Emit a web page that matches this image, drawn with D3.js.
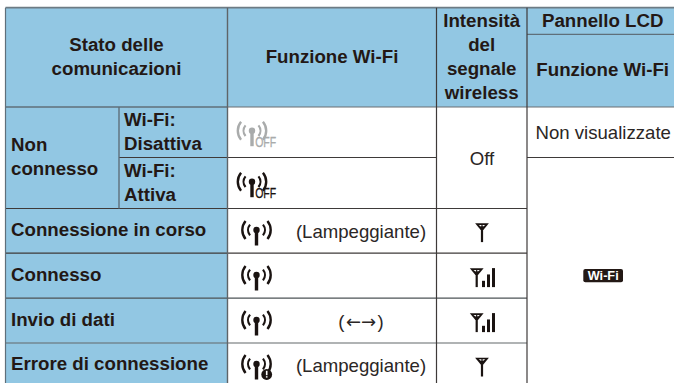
<!DOCTYPE html>
<html>
<head>
    <title>Stato delle comunicazioni Wi-Fi</title>
    <script src="https://d3js.org/d3.v7.min.js"></script>
    <style>
        html, body { margin: 0; padding: 0; background: #fff; }
        svg { display: block; }
        text { font-family: "Liberation Sans", Arial, sans-serif; font-size: 18.7px; fill: #231815; }
        .head { font-weight: bold; }
        .val { font-size: 18.6px; fill: #2b2625; }
    </style>
</head>
<body>
<svg width="674" height="383"></svg>
<script>
    // table content
    var statusRows = ["Connessione in corso", "Connesso", "Invio di dati", "Errore di connessione"];
    var wifiStates = [["Wi-Fi:", "Disattiva"], ["Wi-Fi:", "Attiva"]];
    var blinkNotes = ["(Lampeggiante)", "", "(←→)", "(Lampeggiante)"];
    var signalLevels = [0, 3, 3, 0];

    // column and row edges
    var colNames = ["a", "b", "c", "d", "e", "f"];
    var colEdges = [5.5, 119, 227.5, 436.5, 527, 674];
    var rowNames = ["top", "split", "r0", "r1", "r2", "r3", "r4", "r5", "end"];
    var rowEdges = [7.7, 34.3, 107, 157.5, 208.5, 253.2, 298.2, 343, 383];

    var x = d3.scaleOrdinal(colNames, colEdges),
        y = d3.scaleOrdinal(rowNames, rowEdges),
        barH = d3.scaleLinear().domain([1, 3]).range([6.3, 19]),
        svg = d3.select("svg");

    var blue = "#92c7e3", grayLine = "#5f6f7a", darkLine = "#3e3a39", ink = "#1a1311";

    // blue blocks
    var blocks = [
        ["a", "f", "top", "r0"],
        ["a", "c", "r0", "r2"],
        ["a", "c", "r2", "end"]
    ];
    svg.selectAll(".block").data(blocks).enter().append("rect")
        .attr("class", "block")
        .attr("x", function(d) { return x(d[0]); })
        .attr("y", function(d) { return y(d[2]); })
        .attr("width", function(d) { return x(d[1]) - x(d[0]); })
        .attr("height", function(d) { return y(d[3]) - y(d[2]); })
        .attr("fill", blue);

    // grid lines: horizontal [row, from, to], vertical [col, from, to]
    var hLines = [
        ["top", "a", "f", "#6d7b84", 1.8],
        ["split", "e", "f", grayLine, 1.2],
        ["r0", "a", "c", grayLine, 1.4],
        ["r0", "c", "f", "#6b6f72", 1.2],
        ["r1", "b", "d", darkLine, 1],
        ["r1", "e", "f", darkLine, 1],
        ["r2", "a", "e", darkLine, 1.2],
        ["r3", "a", "e", darkLine, 1.2],
        ["r4", "a", "e", "#4d5356", 1.2],
        ["r5", "a", "e", "#62686b", 1.2]
    ];
    var vLines = [
        ["a", "top", "end", grayLine, 1.2],
        ["b", "r0", "r2", grayLine, 1.4],
        ["c", "top", "end", "#5f6468", 1.4],
        ["d", "top", "end", darkLine, 1.2],
        ["e", "top", "end", darkLine, 1.2]
    ];
    svg.selectAll(".hl").data(hLines).enter().append("line")
        .attr("class", "hl")
        .attr("x1", function(d) { return x(d[1]); })
        .attr("x2", function(d) { return x(d[2]); })
        .attr("y1", function(d) { return y(d[0]); })
        .attr("y2", function(d) { return y(d[0]); })
        .attr("stroke", function(d) { return d[3]; })
        .attr("stroke-width", function(d) { return d[4]; });
    svg.selectAll(".vl").data(vLines).enter().append("line")
        .attr("class", "vl")
        .attr("x1", function(d) { return x(d[0]); })
        .attr("x2", function(d) { return x(d[0]); })
        .attr("y1", function(d) { return y(d[1]); })
        .attr("y2", function(d) { return y(d[2]); })
        .attr("stroke", function(d) { return d[3]; })
        .attr("stroke-width", function(d) { return d[4]; });

    function label(txt, px, py, anchor, cls) {
        return svg.append("text")
            .attr("class", cls)
            .attr("x", px)
            .attr("y", py)
            .attr("text-anchor", anchor)
            .text(txt);
    }

    // header
    label("Stato delle", 116.5, 51.3, "middle", "head");
    label("comunicazioni", 116.5, 75.3, "middle", "head");
    label("Funzione Wi-Fi", 332, 63.4, "middle", "head");
    ["Intensità", "del", "segnale", "wireless"].forEach(function(t, i) {
        label(t, 481.7, 27 + i * 24, "middle", "head");
    });
    label("Pannello LCD", 602.7, 27, "middle", "head");
    label("Funzione Wi-Fi", 602.7, 76, "middle", "head");

    // left labels
    label("Non", 11, 151, "start", "head");
    label("connesso", 11, 175, "start", "head");
    wifiStates.forEach(function(s, i) {
        label(s[0], 124, 126 + i * 50.5, "start", "head");
        label(s[1], 124, 150 + i * 50.5, "start", "head");
    });
    var statusBase = [235.7, 280.7, 325.7, 369.8];
    statusRows.forEach(function(s, i) { label(s, 11, statusBase[i], "start", "head"); });

    // antenna with waves
    function wifiIcon(cx, cy, color) {
        var g = svg.append("g").attr("transform", "translate(" + cx + "," + cy + ")");
        var arc = d3.arc();
        [[14.2, 2.4], [8.4, 2.2]].forEach(function(w) {
            [1, -1].forEach(function(side) {
                g.append("path")
                    .attr("d", arc({
                        innerRadius: w[0] - w[1] / 2,
                        outerRadius: w[0] + w[1] / 2,
                        startAngle: side * Math.PI * 0.28,
                        endAngle: side * Math.PI * 0.72
                    }))
                    .attr("fill", color);
            });
        });
        g.append("circle").attr("r", 3.2).attr("fill", color);
        g.append("rect").attr("x", -1.7).attr("y", 0).attr("width", 3.4).attr("height", 15.5).attr("fill", color);
        return g;
    }

    function offIcon(cx, cy, color) {
        var g = wifiIcon(cx, cy, color);
        g.append("text")
            .attr("x", 3.2)
            .attr("y", 16.4)
            .attr("textLength", 21)
            .attr("lengthAdjust", "spacingAndGlyphs")
            .style("font-size", "15px")
            .style("stroke", color)
            .style("stroke-width", 0.3)
            .style("fill", color)
            .text("OFF");
    }

    offIcon(252, 130.7, "#a9abab");
    offIcon(252, 181.7, ink);
    var iconY = [230, 275, 320, 364];
    iconY.forEach(function(cy, i) {
        var g = wifiIcon(256.5, cy, ink);
        if (i === 3) {
            g.append("circle").attr("cx", 10.2).attr("cy", 10.5).attr("r", 5.4).attr("fill", ink);
            g.append("rect").attr("x", 9.4).attr("y", 6.8).attr("width", 1.6).attr("height", 4.4).attr("fill", "#fff");
            g.append("rect").attr("x", 9.4).attr("y", 12.2).attr("width", 1.6).attr("height", 1.4).attr("fill", "#fff");
        }
    });

    var noteBase = [238.3, 0, 328, 371.7];
    blinkNotes.forEach(function(t, i) {
        if (!t) return;
        var node = label(t, 361, noteBase[i], "middle", "val");
        // arrows come from DejaVu, Liberation's are too small
        if (t.indexOf("←") > -1) {
            node.text(null);
            node.append("tspan").text(t.slice(0, 1));
            node.append("tspan").attr("dx", 1.5)
                .style("font-family", "'DejaVu Sans'").style("font-size", "18px")
                .text(t.slice(1, -1));
            node.append("tspan").attr("dx", 1.5).text(t.slice(-1));
        }
    });

    // signal column
    label("Off", 482, 165, "middle", "val");
    label("Non visualizzate", 535.5, 139.3, "start", "val");

    var antennaTop = [223.3, 268.3, 313.3, 357.7];
    signalLevels.forEach(function(level, i) {
        var cx = level ? 476.7 : 482;
        var g = svg.append("g").attr("transform", "translate(" + cx + "," + antennaTop[i] + ")");
        g.append("path").attr("d", "M-6.9,0H6.9L1.3,6.8H-1.3Z").attr("fill", ink);
        g.append("path").attr("d", "M-3.2,1.6H-0.6V3.6Z M3.2,1.6H0.6V3.6Z").attr("fill", "#fff");
        g.append("rect").attr("x", -1.1).attr("y", 3).attr("width", 2.2).attr("height", 15.8).attr("fill", ink);
        d3.range(1, level + 1).forEach(function(b) {
            g.append("rect")
                .attr("x", 5.3 + (b - 1) * 5)
                .attr("y", 18.8 - barH(b))
                .attr("width", 3)
                .attr("height", barH(b))
                .attr("fill", ink);
        });
    });

    // Wi-Fi badge
    svg.append("rect")
        .attr("x", 583.3).attr("y", 269)
        .attr("width", 39.7).attr("height", 13.3)
        .attr("rx", 2)
        .attr("fill", "#231815");
    svg.append("text")
        .attr("x", 603.2).attr("y", 280.3)
        .attr("text-anchor", "middle")
        .attr("textLength", 31)
        .attr("lengthAdjust", "spacingAndGlyphs")
        .style("font-size", "13px")
        .style("font-weight", "bold")
        .style("fill", "#fff")
        .text("Wi-Fi");
</script>
</body>
</html>
